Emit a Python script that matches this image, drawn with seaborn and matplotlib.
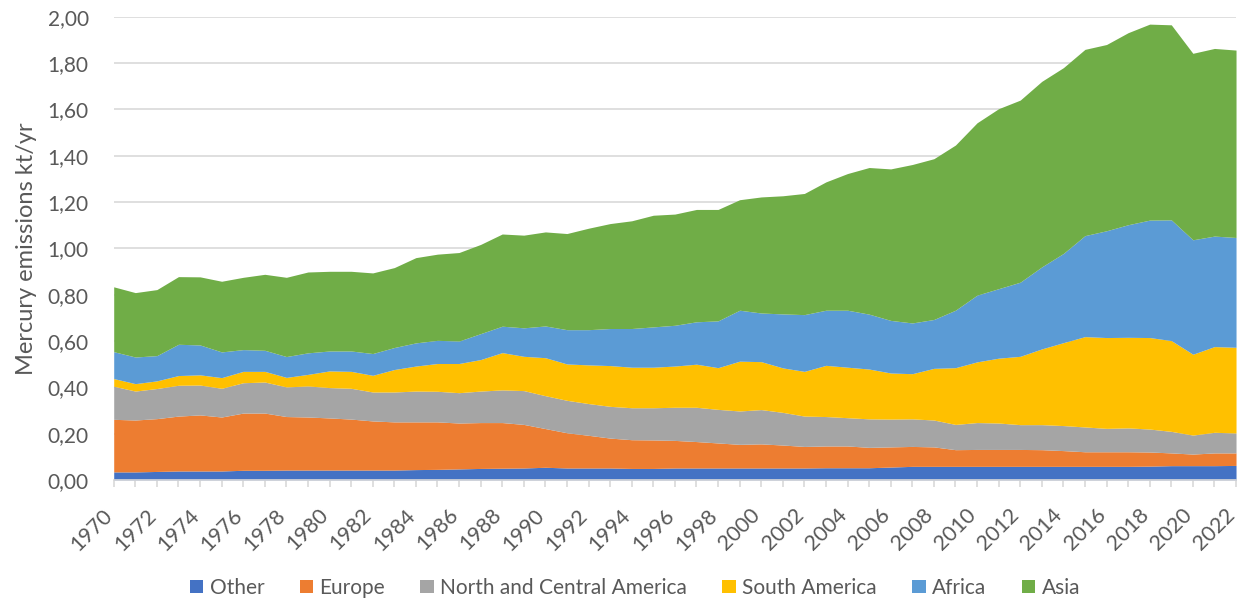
import matplotlib
matplotlib.use("Agg")
import matplotlib.pyplot as plt
import matplotlib.ticker as mticker
import matplotlib.transforms as mtransforms
import seaborn as sns

# Mercury emissions by region (kt/yr)
years = list(range(1970, 2023))

other = [0.035, 0.035, 0.037, 0.039, 0.039, 0.039, 0.042, 0.042, 0.043, 0.043,
         0.043, 0.043, 0.043, 0.043, 0.045, 0.046, 0.048, 0.050, 0.051, 0.052,
         0.055, 0.052, 0.052, 0.052, 0.050, 0.050, 0.052, 0.052, 0.052, 0.052,
         0.052, 0.052, 0.052, 0.053, 0.053, 0.053, 0.056, 0.059, 0.059, 0.059,
         0.059, 0.059, 0.059, 0.059, 0.059, 0.059, 0.059, 0.059, 0.060, 0.062,
         0.062, 0.062, 0.063]
europe = [0.227, 0.224, 0.228, 0.237, 0.242, 0.233, 0.247, 0.247, 0.231, 0.229,
          0.225, 0.220, 0.212, 0.208, 0.206, 0.205, 0.198, 0.198, 0.197, 0.188,
          0.167, 0.152, 0.141, 0.129, 0.124, 0.123, 0.119, 0.114, 0.108, 0.102,
          0.104, 0.099, 0.093, 0.094, 0.094, 0.088, 0.087, 0.086, 0.084, 0.072,
          0.073, 0.073, 0.073, 0.072, 0.068, 0.063, 0.063, 0.063, 0.061, 0.055,
          0.050, 0.055, 0.054]
north_central_america = [0.143, 0.125, 0.130, 0.133, 0.129, 0.124, 0.131, 0.134, 0.128, 0.134,
                         0.131, 0.133, 0.125, 0.129, 0.133, 0.132, 0.131, 0.136, 0.141, 0.146,
                         0.142, 0.140, 0.137, 0.137, 0.138, 0.139, 0.143, 0.148, 0.145, 0.144,
                         0.148, 0.141, 0.131, 0.127, 0.122, 0.123, 0.120, 0.119, 0.116, 0.109,
                         0.116, 0.114, 0.107, 0.108, 0.108, 0.107, 0.101, 0.103, 0.099, 0.093,
                         0.082, 0.089, 0.086]
south_america = [0.033, 0.032, 0.033, 0.042, 0.044, 0.046, 0.049, 0.046, 0.041, 0.050,
                 0.072, 0.073, 0.072, 0.097, 0.108, 0.120, 0.126, 0.136, 0.161, 0.148,
                 0.164, 0.157, 0.167, 0.176, 0.175, 0.175, 0.178, 0.186, 0.180, 0.215,
                 0.207, 0.192, 0.193, 0.221, 0.218, 0.215, 0.199, 0.195, 0.223, 0.245,
                 0.262, 0.280, 0.295, 0.327, 0.358, 0.390, 0.392, 0.391, 0.395, 0.392,
                 0.349, 0.370, 0.370]
africa = [0.116, 0.115, 0.109, 0.135, 0.129, 0.111, 0.094, 0.091, 0.090, 0.093,
          0.086, 0.088, 0.094, 0.095, 0.100, 0.100, 0.097, 0.112, 0.114, 0.123,
          0.137, 0.148, 0.152, 0.160, 0.167, 0.174, 0.176, 0.183, 0.202, 0.220,
          0.210, 0.233, 0.245, 0.238, 0.246, 0.237, 0.227, 0.219, 0.211, 0.248,
          0.288, 0.300, 0.320, 0.354, 0.385, 0.436, 0.461, 0.486, 0.507, 0.521,
          0.494, 0.477, 0.474]
asia = [0.280, 0.278, 0.285, 0.292, 0.294, 0.305, 0.312, 0.328, 0.342, 0.349,
        0.344, 0.344, 0.348, 0.345, 0.368, 0.372, 0.382, 0.385, 0.398, 0.400,
        0.406, 0.415, 0.438, 0.453, 0.465, 0.482, 0.480, 0.485, 0.481, 0.477,
        0.501, 0.510, 0.523, 0.554, 0.590, 0.633, 0.654, 0.684, 0.694, 0.713,
        0.744, 0.777, 0.786, 0.801, 0.802, 0.804, 0.804, 0.829, 0.846, 0.842,
        0.805, 0.810, 0.809]

labels = ["Other", "Europe", "North and Central America", "South America", "Africa", "Asia"]
colors = ["#4472C4", "#ED7D31", "#A5A5A5", "#FFC000", "#5B9BD5", "#70AD47"]

sns.set_theme(style="white")
plt.rcParams["font.family"] = ["Lato", "DejaVu Sans"]
text_color = "#595959"
grid_color = "#D9D9D9"

fig = plt.figure(figsize=(12.4, 6.01), dpi=100)
ax = fig.add_axes([0.0917, 0.2013, 0.9051, 0.7709])

polys = ax.stackplot(years, other, europe, north_central_america, south_america,
                     africa, asia, colors=colors, labels=labels, linewidth=0)

ax.set_xlim(1970, 2022)
ax.set_ylim(0, 2.0)
ax.yaxis.set_major_locator(mticker.MultipleLocator(0.2))
ax.yaxis.set_major_formatter(mticker.FuncFormatter(lambda v, p: f"{v:.2f}".replace(".", ",")))
ax.xaxis.set_major_locator(mticker.MultipleLocator(2))
ax.xaxis.set_minor_locator(mticker.MultipleLocator(1))

ax.grid(axis="y", color=grid_color, linewidth=1.2)
ax.set_axisbelow(True)
for s in ["top", "right", "left"]:
    ax.spines[s].set_visible(False)
ax.spines["bottom"].set_color(grid_color)
ax.spines["bottom"].set_linewidth(1.2)
ax.spines["bottom"].set_zorder(5)

ax.tick_params(axis="y", left=False, pad=12, labelsize=15, labelcolor=text_color)
ax.tick_params(axis="x", which="both", bottom=True, length=5, width=1.2, color=grid_color)
ax.tick_params(axis="x", which="major", pad=13, labelsize=15.5, labelcolor=text_color)

shift = mtransforms.ScaledTranslation(3 / 100, 0, fig.dpi_scale_trans)
for lab in ax.get_xticklabels():
    lab.set_rotation(45)
    lab.set_ha("right")
    lab.set_va("top")
    lab.set_transform(lab.get_transform() + shift)

ax.set_ylabel("Mercury emissions kt/yr", fontsize=17, color=text_color)
ax.yaxis.set_label_coords(-0.068, 0.5)

fig.legend(polys, labels, loc="center", bbox_to_anchor=(0.512, 0.022), ncol=6,
           frameon=False, fontsize=15, labelcolor=text_color,
           handlelength=0.65, handleheight=0.65, handletextpad=0.3, columnspacing=1.7)

fig.savefig("out.png", dpi=100)
